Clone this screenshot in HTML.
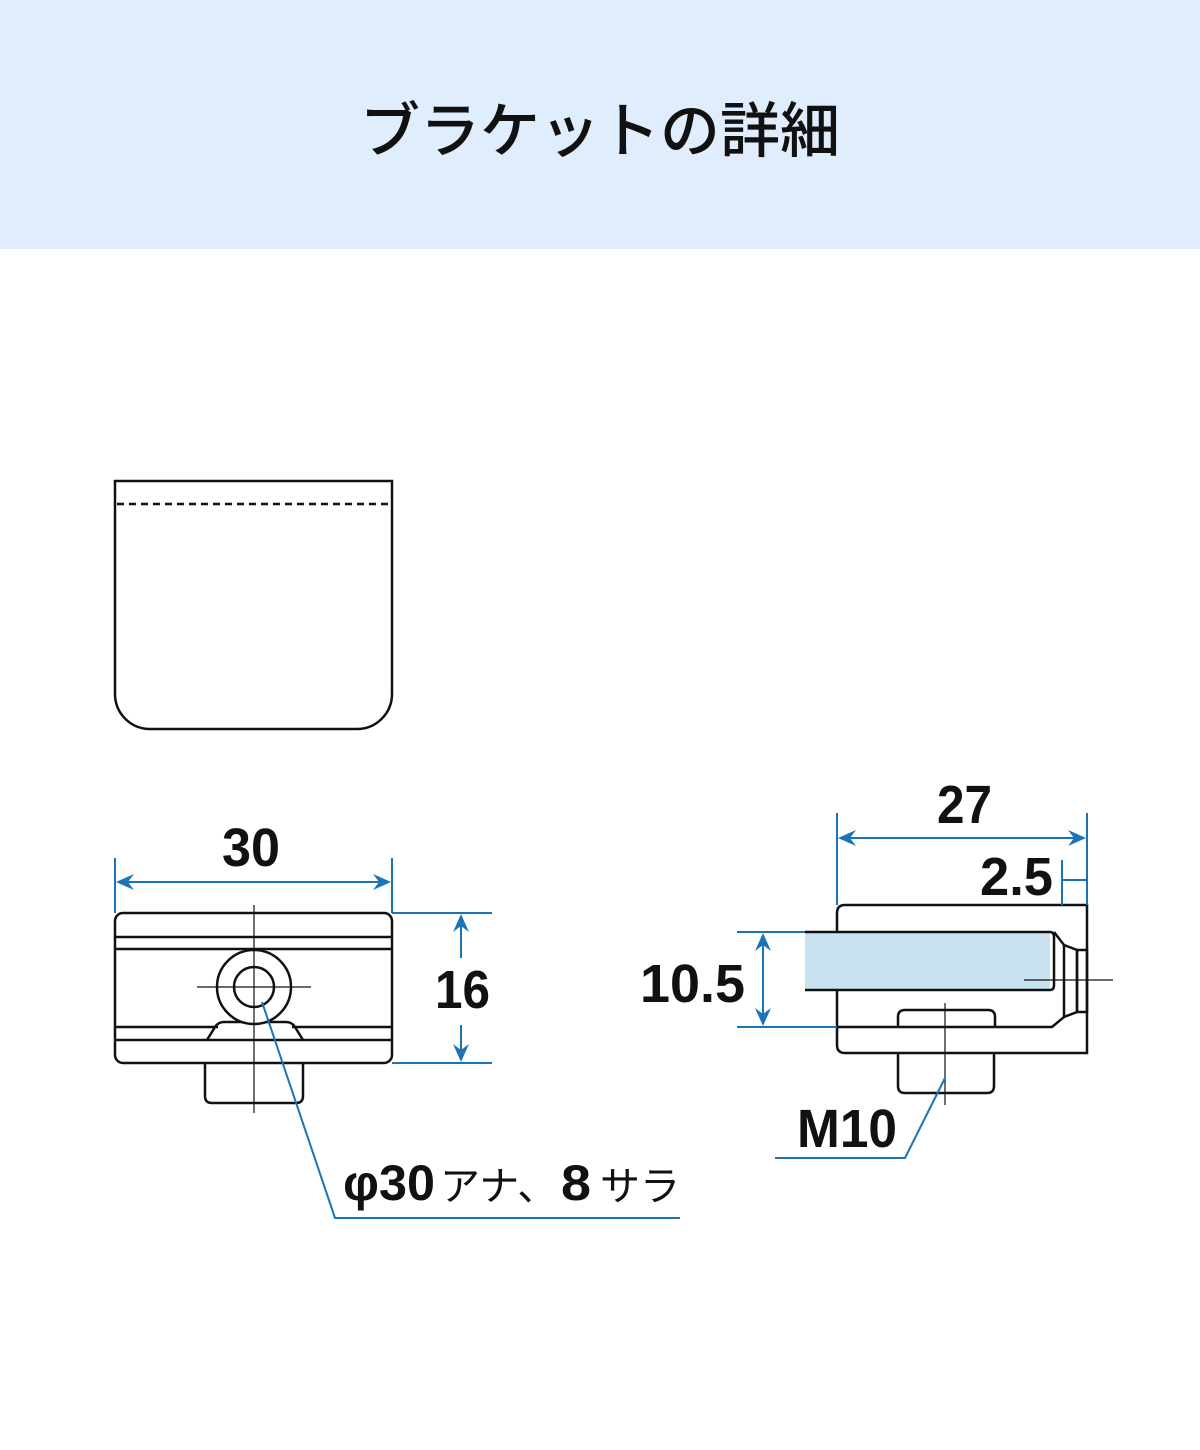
<!DOCTYPE html>
<html><head><meta charset="utf-8"><style>
html,body{margin:0;padding:0;background:#fff;}
svg{display:block;}
.n{font-family:"Liberation Sans",sans-serif;font-weight:bold;fill:#111;}
.k{font-family:"Liberation Sans","Noto Sans CJK JP",sans-serif;fill:#111;}
</style></head><body>
<svg width="1200" height="1450" viewBox="0 0 1200 1450" xmlns="http://www.w3.org/2000/svg">
<rect x="0" y="0" width="1200" height="249" fill="#e0edfc"/>
<text x="600" y="152" text-anchor="middle" font-family="'Liberation Sans','Noto Sans CJK JP',sans-serif" font-size="60" font-weight="500" fill="#111">ブラケットの詳細</text>

<g fill="none" stroke="#111" stroke-width="2.5">
<path d="M115,481 H392 V694 A35,35 0 0 1 357,729 H150 A35,35 0 0 1 115,694 Z"/>
<line x1="117" y1="504" x2="390" y2="504" stroke-dasharray="7,5"/>

<rect x="115" y="913" width="277" height="150" rx="8"/>
<line x1="116" y1="937" x2="391" y2="937"/>
<line x1="116" y1="949" x2="391" y2="949"/>
<line x1="116" y1="1027" x2="218" y2="1027"/>
<line x1="292" y1="1027" x2="391" y2="1027"/>
<line x1="116" y1="1040" x2="391" y2="1040"/>
<path d="M207,1040 L215,1027 Q218,1022 224,1022 H286 Q292,1022 295,1027 L303,1040"/>
<path d="M205,1063 V1096 Q205,1103 212,1103 H296 Q303,1103 303,1096 V1063"/>
<circle cx="254" cy="987" r="37" fill="#fff"/>
<circle cx="254" cy="987" r="20"/>

<path d="M837,1027 V913 Q837,905 845,905 H1087 V1053 H845 Q837,1053 837,1045 V1027"/>
<path d="M898,1027 V1017 Q898,1010 905,1010 H988 Q995,1010 995,1017 V1027"/>
<path d="M898,1053 V1086 Q898,1093 905,1093 H987 Q994,1093 994,1086 V1053"/>
</g>
<rect x="805" y="932" width="245" height="58" fill="#c9e2f0"/>
<g fill="none" stroke="#111" stroke-width="2.5">
<path d="M805,932 H1050 Q1054,932 1054,937 V985 Q1054,990 1050,990 H805"/>
<path d="M1054,932 L1064,945 L1077,950 V1012 L1064,1017 L1052,1027 H838"/>
<line x1="1064" y1="945" x2="1064" y2="1017"/>
<rect x="1077" y="950" width="10" height="62"/>
</g>
<g stroke="#111" stroke-width="1.2">
<line x1="254" y1="905" x2="254" y2="1113"/>
<line x1="197" y1="987" x2="311" y2="987"/>
<line x1="945" y1="1003" x2="945" y2="1105"/>
<line x1="1024" y1="980" x2="1113" y2="980"/>
</g>

<g stroke="#1a74b5" stroke-width="2" fill="none">
<line x1="115" y1="858" x2="115" y2="913"/>
<line x1="392" y1="858" x2="392" y2="913"/>
<line x1="118" y1="882" x2="389" y2="882"/>
<line x1="392" y1="913" x2="492" y2="913"/>
<line x1="392" y1="1063" x2="492" y2="1063"/>
<line x1="461" y1="916" x2="461" y2="958"/>
<line x1="461" y1="1025" x2="461" y2="1060"/>
<polyline points="262,1002 335,1218 680,1218"/>

<line x1="837" y1="813" x2="837" y2="905"/>
<line x1="1087" y1="813" x2="1087" y2="905"/>
<line x1="840" y1="838" x2="1084" y2="838"/>
<line x1="1062" y1="860" x2="1062" y2="905"/>
<line x1="1062" y1="880" x2="1087" y2="880"/>
<line x1="737" y1="932" x2="805" y2="932"/>
<line x1="737" y1="1027" x2="837" y2="1027"/>
<line x1="763" y1="935" x2="763" y2="1024"/>
<polyline points="945,1078 905,1158 775,1158"/>
</g>
<g fill="#1a74b5">
<path d="M116,882 L134,874 L128,882 L134,890 Z"/>
<path d="M391,882 L373,874 L379,882 L373,890 Z"/>
<path d="M461,914 L453,932 L461,926 L469,932 Z"/>
<path d="M461,1062 L453,1044 L461,1050 L469,1044 Z"/>
<path d="M838,838 L856,830 L850,838 L856,846 Z"/>
<path d="M1086,838 L1068,830 L1074,838 L1068,846 Z"/>
<path d="M763,933 L755,951 L763,945 L771,951 Z"/>
<path d="M763,1026 L755,1008 L763,1014 L771,1008 Z"/>
</g>

<text class="n" x="222" y="866" font-size="54" textLength="58" lengthAdjust="spacingAndGlyphs">30</text>
<text class="n" x="435" y="1008" font-size="54" textLength="55" lengthAdjust="spacingAndGlyphs">16</text>
<text class="n" x="937" y="823" font-size="54" textLength="55" lengthAdjust="spacingAndGlyphs">27</text>
<text class="n" x="980" y="895" font-size="54" textLength="73" lengthAdjust="spacingAndGlyphs">2.5</text>
<text class="n" x="640" y="1002" font-size="54" textLength="105" lengthAdjust="spacingAndGlyphs">10.5</text>
<text class="n" x="797" y="1147" font-size="54" textLength="100" lengthAdjust="spacingAndGlyphs">M10</text>
<text class="n" x="343" y="1200" font-size="50" textLength="92" lengthAdjust="spacingAndGlyphs">φ30</text>
<text class="k" x="440" y="1200" font-size="40">アナ、</text>
<text class="n" x="561" y="1200" font-size="50" textLength="30" lengthAdjust="spacingAndGlyphs">8</text>
<text class="k" x="600" y="1200" font-size="40">サラ</text>
</svg>
</body></html>
